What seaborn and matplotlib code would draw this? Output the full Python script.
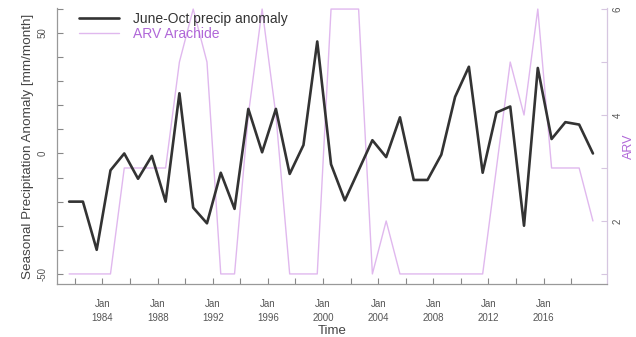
import numpy as np
import pandas as pd
import matplotlib
matplotlib.use("Agg")
import matplotlib.pyplot as plt
import seaborn as sns

years = list(range(1981, 2020))
precip = [-20, -20, -40, -7, 0, -10.5, -1, -20, 25, -22.5,
          -29, -8, -23, 18.5, 0.5, 18.5, -8.5, 3.5, 46.5, -4.5,
          -19.5, -7, 5.5, -1.5, 15, -11, -11, -0.5, 23.5, 36,
          -8, 17, 19.5, -30, 35.5, 6, 13, 12, 0]
arv = [1, 1, 1, 1, 3, 3, 3, 3, 5, 6,
       5, 1, 1, 4, 6, 4, 1, 1, 1, 6,
       6, 6, 1, 2, 1, 1, 1, 1, 1, 1,
       1, 3, 5, 4, 6, 3, 3, 3, 2]
xtick_years = list(range(1982, 2019, 2))
xlabel_years = list(range(1984, 2017, 4))
left_ticks = list(range(-50, 61, 10))
left_labels = [-50, 0, 50]
right_ticks = [1, 2, 3, 4, 5, 6]
right_labels = [2, 4, 6]

df = pd.DataFrame({"t": np.array(years) + 0.58, "precip": precip, "arv": arv})

sns.set_style("ticks")
plt.rcParams["font.family"] = ["Liberation Sans", "DejaVu Sans"]

PURPLE_LINE = "#e0b8ee"
PURPLE_TEXT = "#b067d8"
BLACK = "#333333"
GREY = "#555555"

fig = plt.figure(figsize=(6.36, 3.37), dpi=100)
ax = fig.add_axes([57/636, 1-284/337, 550/636, 276/337])
ax2 = ax.twinx()

sns.lineplot(data=df, x="t", y="arv", ax=ax2, color=PURPLE_LINE, lw=1.0,
             label="ARV Arachide", legend=False)
sns.lineplot(data=df, x="t", y="precip", ax=ax, color=BLACK, lw=1.9,
             label="June-Oct precip anomaly", legend=False)

ax.set_zorder(ax2.get_zorder() + 1)
ax.patch.set_visible(False)

ax.set_xlim(1980.7, 2020.6)
ax.set_ylim(-54.2, 60.4)
ax2.set_ylim(0.81, 6.02)

ax.set_xticks(xtick_years)
ax.set_xticklabels([f"Jan\n{y}" if y in xlabel_years else "" for y in xtick_years],
                   linespacing=1.5)
ax.set_yticks(left_ticks)
ax.set_yticklabels([str(v) if v in left_labels else "" for v in left_ticks],
                   rotation=90, va="center")
ax2.set_yticks(right_ticks)
ax2.set_yticklabels([str(v) if v in right_labels else "" for v in right_ticks],
                    rotation=90, va="center")

for a in (ax, ax2):
    a.tick_params(direction="in", length=4, width=0.8, colors="#888888",
                  labelcolor=GREY, labelsize=7)
    for s in a.spines.values():
        s.set_color("#999999")
        s.set_linewidth(0.9)
    a.spines["top"].set_visible(False)
ax.tick_params(axis="x", pad=11)
ax.tick_params(axis="y", pad=7)
ax2.tick_params(axis="y", pad=4)
ax.spines["right"].set_visible(False)
ax2.spines["left"].set_visible(False)
ax2.spines["bottom"].set_visible(False)
ax2.spines["right"].set_color("#d6c6e0")
ax2.tick_params(axis="y", colors="#d6c6e0", labelcolor=GREY)

ax.set_xlabel("Time", fontsize=9.5, color="#444444", labelpad=1)
ax.set_ylabel("Seasonal Precipitation Anomaly [mm/month]", fontsize=9.7,
              color="#444444", labelpad=2)
ax2.set_ylabel("ARV", fontsize=9, color=PURPLE_TEXT, labelpad=0)

h1, l1 = ax.get_legend_handles_labels()
h2, l2 = ax2.get_legend_handles_labels()
leg = ax.legend(h1 + h2, l1 + l2, loc="upper left", bbox_to_anchor=(0.04, 0.985),
                frameon=False, fontsize=10, handlelength=2.9, handletextpad=1.0,
                labelspacing=0.05, borderpad=0, borderaxespad=0)
leg.get_texts()[0].set_color("#333333")
leg.get_texts()[1].set_color(PURPLE_TEXT)

fig.savefig("out.png", dpi=100)
